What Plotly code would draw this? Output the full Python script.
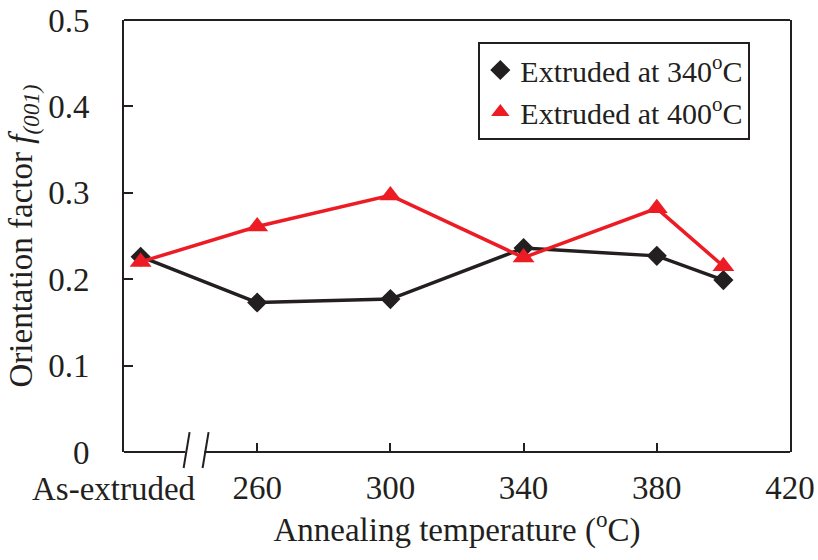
import plotly.graph_objects as go

# Annealing temperature positions (the as-extruded state sits left of the axis break)
temps = [225, 260, 300, 340, 380, 400]
f001_340 = [0.226, 0.173, 0.177, 0.236, 0.227, 0.199]
f001_400 = [0.220, 0.261, 0.297, 0.225, 0.282, 0.215]
tick_vals = [260, 300, 340, 380, 420]
tick_text = ["260", "300", "340", "380", "420"]
y_ticks = [0, 0.1, 0.2, 0.3, 0.4, 0.5]
y_text = ["0", "0.1", "0.2", "0.3", "0.4", "0.5"]

FONT = "Liberation Serif, Times New Roman, serif"
INK = "#231f20"
RED = "#ed1c24"

fig = go.Figure()

series = [
    ("Extruded at 340<sup>o</sup>C", f001_340, INK, "diamond", 15.5),
    ("Extruded at 400<sup>o</sup>C", f001_400, RED, "triangle-up", 19),
]
for name, vals, color, symbol, size in series:
    fig.add_trace(go.Scatter(
        x=temps, y=vals, mode="lines", showlegend=False,
        line=dict(color=color, width=3.5), hoverinfo="skip",
    ))
    fig.add_trace(go.Scatter(
        x=temps, y=vals, mode="markers", name=name,
        marker=dict(color=color, symbol=symbol, size=size, line=dict(width=0)),
    ))

line_style = dict(color=INK, width=2)
# top frame
fig.add_shape(type="line", xref="paper", yref="paper", x0=0, x1=1, y0=1, y1=1, line=line_style)
# bottom frame with an axis break
fig.add_shape(type="line", xref="x", yref="paper", x0=220, x1=238.4, y0=0, y1=0, line=line_style)
fig.add_shape(type="line", xref="x", yref="paper", x0=244.1, x1=420, y0=0, y1=0, line=line_style)
for xt, xb in [(239.7, 237.9), (245.4, 243.6)]:
    fig.add_shape(type="line", xref="x", yref="paper", x0=xb, x1=xt, y0=-0.037, y1=0.046,
                  line=dict(color=INK, width=2))

fig.add_annotation(
    text="As-extruded", x=-0.015, xref="paper", y=-0.0856, yref="paper",
    xanchor="center", yanchor="middle", showarrow=False,
    font=dict(family=FONT, size=33, color=INK),
)

fig.update_layout(
    width=818, height=560,
    margin=dict(l=124, r=28, t=20, b=108),
    paper_bgcolor="white", plot_bgcolor="white",
    font=dict(family=FONT, size=33, color=INK),
    showlegend=True,
    legend=dict(
        x=0.532, y=0.949, xanchor="left", yanchor="top",
        bordercolor=INK, borderwidth=2, bgcolor="white",
        font=dict(family=FONT, size=30, color=INK),
        itemsizing="trace", entrywidth=244, entrywidthmode="pixels",
    ),
    xaxis=dict(
        range=[220, 420], tickvals=tick_vals, ticktext=tick_text,
        ticks="inside", ticklen=9, tickwidth=2, tickcolor=INK,
        showline=False, showgrid=False, zeroline=False, automargin=False,
        ticklabelstandoff=13,
        title=dict(text="Annealing temperature (<sup>o</sup>C)", standoff=12,
                   font=dict(family=FONT, size=33, color=INK)),
    ),
    yaxis=dict(
        range=[0, 0.5], tickvals=y_ticks, ticktext=y_text,
        ticks="inside", ticklen=9, tickwidth=2, tickcolor=INK,
        showline=True, linewidth=2, linecolor=INK, mirror=True,
        showgrid=False, zeroline=False, automargin=False,
        ticklabelstandoff=26,
        title=dict(text="Orientation factor <i>f</i><sub><i>(001)</i></sub>", standoff=6,
                   font=dict(family=FONT, size=33, color=INK)),
    ),
)

fig.write_html("out.html")
